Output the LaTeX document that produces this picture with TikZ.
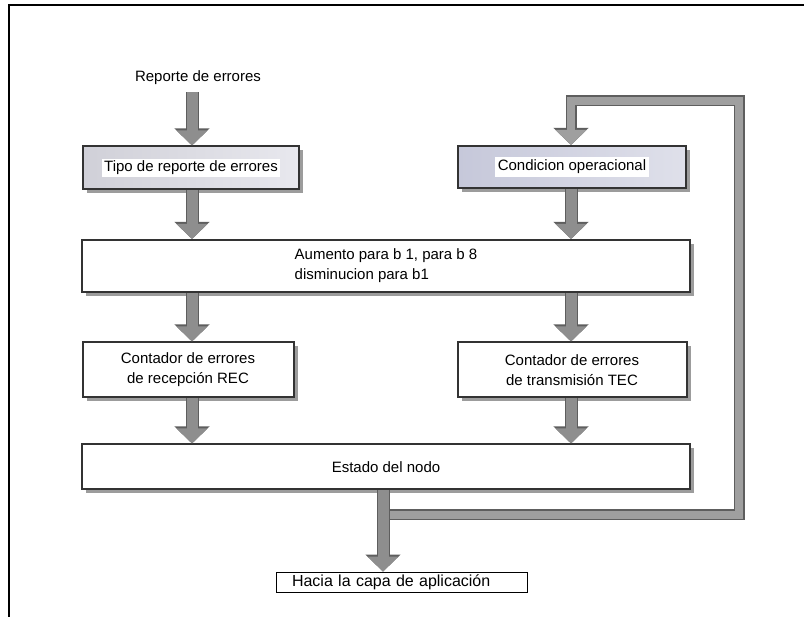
\documentclass[tikz,border=0pt]{standalone}
\usepackage{fontspec}
\setmainfont{Liberation Sans}
\usetikzlibrary{arrows.meta,shadows,calc}
\definecolor{boxedge}{HTML}{333333}
\definecolor{arrfill}{HTML}{8E8E8E}
\definecolor{arredge}{HTML}{5E5E5E}
\definecolor{tipoL}{HTML}{D0D0D8}
\definecolor{tipoR}{HTML}{E8E8EE}
\definecolor{condL}{HTML}{C6C8DA}
\definecolor{condR}{HTML}{DFE0EA}
\begin{document}
\begin{tikzpicture}[x=1pt,y=-1pt,
  txt/.style={font=\fontsize{15}{20}\selectfont},
  boxn/.style={draw=boxedge, line width=2pt, fill=white, txt, align=center, inner sep=0pt,
    drop shadow={shadow xshift=4pt, shadow yshift=-4pt, opacity=0.55, fill=black!70}},
  garrow/.style={line width=11pt, draw=arrfill, line join=miter,
    -{Triangle[width=30pt,length=15pt]},
    preaction={draw=arredge, line width=13pt, line join=miter, -{Triangle[width=34pt,length=17pt]}}},
  fbarrow/.style={line width=8pt, draw=arrfill!85!white, line join=miter,
    -{Triangle[width=30pt,length=15pt]},
    preaction={draw=arredge, line width=11pt, line join=miter, -{Triangle[width=34pt,length=17pt]}}},
]
\useasboundingbox (0,0) rectangle (804,617);
\fill[white] (0,0) rectangle (804,617);
% frame
\draw[line width=2pt, black] (804,5) -- (9,5) -- (9,617);

\coordinate (colL) at (192,0);
\coordinate (colR) at (571,0);
\coordinate (stemx) at (383,0);

\node[txt, inner sep=2pt] (rep) at (198,78) {Reporte de errores};

\node[boxn, minimum width=216pt, minimum height=43pt, left color=tipoL, right color=tipoR]
  (tipo) at (191,168) {\fboxsep=2pt\colorbox{white}{Tipo de reporte de errores}};
\node[boxn, minimum width=228pt, minimum height=42pt, left color=condL, right color=condR]
  (cond) at (572,167) {\fboxsep=3pt\colorbox{white}{Condicion operacional}};

\node[boxn, minimum width=608pt, minimum height=52pt] (aum) at (386,266)
  {\begin{tabular}{@{}l@{}}Aumento para b 1, para b 8\\disminucion para b1\end{tabular}};

\node[boxn, minimum width=211pt, minimum height=55pt] (rec) at (188,370)
  {Contador de errores\\de recepción REC};
\node[boxn, minimum width=229pt, minimum height=55pt] (tec) at (572,370)
  {Contador de errores\\de transmisión TEC};

\node[boxn, minimum width=608pt, minimum height=45pt] (est) at (386,467) {Estado del nodo};

\node[draw=black, line width=0.8pt, fill=white, inner xsep=16pt, inner ysep=0pt,
  minimum height=20pt, text width=219pt, align=left,
  font=\fontsize{16}{18}\selectfont] (hacia) at (401.5,582) {Hacia la capa de aplicación};

% arrows
\draw[garrow, shorten <=5pt] (rep.south -| colL) -- (tipo.north -| colL);
\draw[garrow] (tipo.south -| colL) -- (aum.north -| colL);
\draw[garrow] (cond.south -| colR) -- (aum.north -| colR);
\draw[garrow] (aum.south -| colL) -- (rec.north -| colL);
\draw[garrow] (aum.south -| colR) -- (tec.north -| colR);
\draw[garrow] (rec.south -| colL) -- (est.north -| colL);
\draw[garrow] (tec.south -| colR) -- (est.north -| colR);

% feedback loop
\coordinate (split) at (383,515);
\coordinate (fbR) at (739,515);
\coordinate (fbT) at (739,101);
\draw[fbarrow] (split) -- (fbR) -- (fbT) -- (fbT -| colR) -- (cond.north -| colR);

% stem to application layer
\draw[garrow] (est.south -| stemx) -- (hacia.north -| stemx);
\end{tikzpicture}
\end{document}
